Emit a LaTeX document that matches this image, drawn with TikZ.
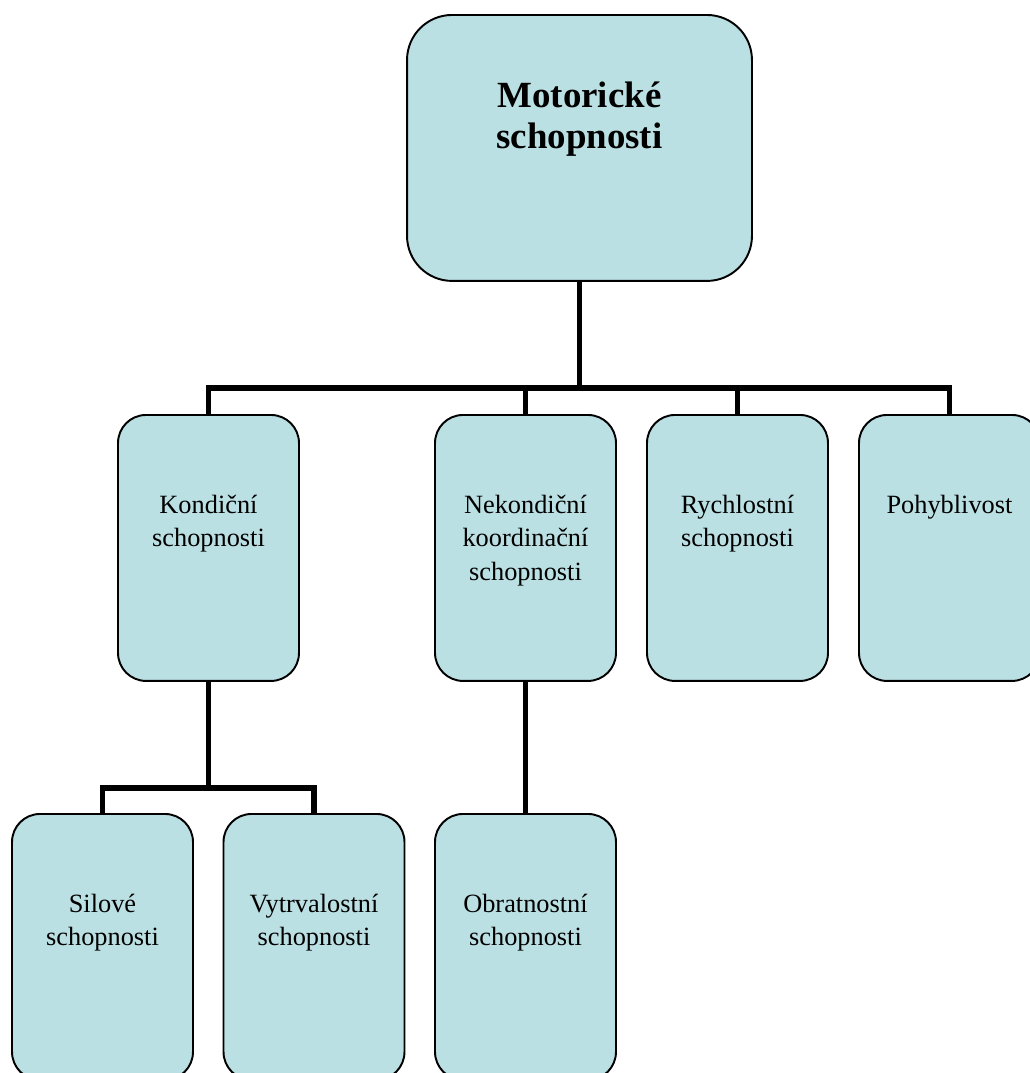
\documentclass[tikz,border=0pt]{standalone}
\usepackage{fontspec}
\setmainfont{Liberation Serif}
\usepackage{tikz}
\definecolor{hopbox}{RGB}{187,224,227}

\begin{document}
\begin{tikzpicture}[x=0.02cm,y=-0.02cm,
		hop/.style={draw=black,line width=1.1pt,fill=hopbox,rounded corners=0.56cm,anchor=north,
			inner sep=0pt,minimum width=3.62cm,text width=3.4cm,align=center,
			text height=1.98cm,text depth=3.34cm,font=\fontsize{15}{18.8}\selectfont},
		hoptop/.style={hop,rounded corners=0.9cm,minimum width=6.9cm,text width=6cm,
			text height=1.86cm,text depth=3.46cm,font=\fontsize{21}{23.3}\selectfont\bfseries},
		noi/.style={line width=3.4pt}]
			\clip (0,0) rectangle (1030,1073);
			\node[hoptop] (motor) at (579.5,14) {Motorické\\schopnosti};
			\node[hop] (kond) at (208.5,414) {Kondiční\\schopnosti};
			\node[hop] (nekond) at (525.5,414) {Nekondiční\\koordinační\\schopnosti};
			\node[hop] (rychl) at (737.5,414) {Rychlostní\\schopnosti};
			\node[hop] (pohyb) at (949.5,414) {Pohyblivost};
			\node[hop] (silove) at (102.5,813) {Silové\\schopnosti};
			\node[hop] (vytrv) at (314,813) {Vytrvalostní\\schopnosti};
			\node[hop] (obrat) at (525.5,813) {Obratnostní\\schopnosti};
			\coordinate (bus) at (579.5,388);
			\coordinate (subbus) at (208.5,788);
			\draw[noi] (motor.south) -- (motor.south |- bus);
			\draw[noi] (kond.north) |- (pohyb.north |- bus) -- (pohyb.north);
			\draw[noi] (nekond.north) -- (nekond.north |- bus);
			\draw[noi] (rychl.north) -- (rychl.north |- bus);
			\draw[noi] (kond.south) -- (kond.south |- subbus);
			\draw[noi] (silove.north) |- (vytrv.north |- subbus) -- (vytrv.north);
			\draw[noi] (nekond.south) -- (obrat.north);
		\end{tikzpicture}
\end{document}
